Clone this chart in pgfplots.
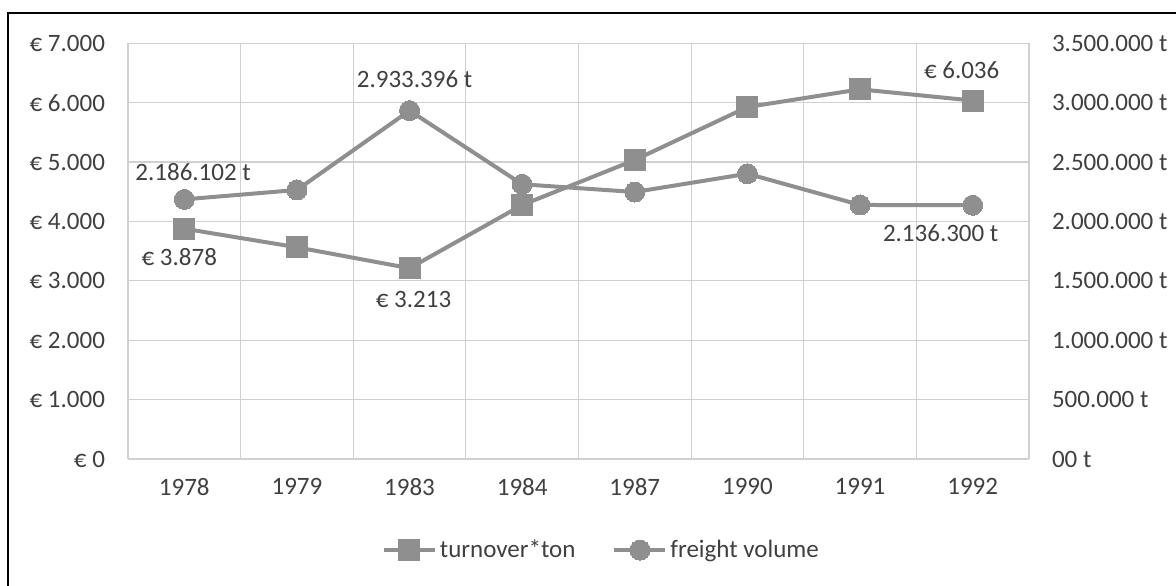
\documentclass[border=0pt]{standalone}
\usepackage{fontspec}
\setmainfont{Carlito}
\usepackage{pgfplots}
\pgfplotsset{compat=1.18}
\definecolor{ser}{HTML}{8F8F8F}
\definecolor{gridc}{HTML}{D0D0D0}
\definecolor{txt}{HTML}{404040}
\begin{document}
\begin{tikzpicture}[font=\fontsize{12.5}{15}\selectfont]
\useasboundingbox (0pt,0pt) rectangle (588pt,292.5pt);
\draw[line width=1.2pt] (4pt,-10pt) -- (4pt,286pt) -- (600pt,286pt);
\pgfplotsset{myax/.style={at={(64pt,63pt)}, anchor=south west, scale only axis,
  width=450.5pt, height=207.85pt, xmin=-0.5, xmax=7.5,
  major tick length=0pt, minor tick length=0pt,
  tick label style={text=txt}, axis line style={draw=none}},
  serstyle/.style={ser, line width=2pt},
  sqmark/.style={mark=square*, mark size=5.25pt, mark options={solid, fill=ser, draw=ser, line width=0pt}},
  cimark/.style={mark=*, mark size=5pt, mark options={solid, fill=ser, draw=ser, line width=0pt}}}
\begin{axis}[myax, ymin=0, ymax=7000,
  xtick={0,1,2,3,4,5,6,7},
  xticklabels={1978,1979,1983,1984,1987,1990,1991,1992},
  minor xtick={-0.5,0.5,1.5,2.5,3.5,4.5,5.5,6.5,7.5},
  ytick={0,1000,2000,3000,4000,5000,6000,7000},
  yticklabels={€ 0,€ 1.000,€ 2.000,€ 3.000,€ 4.000,€ 5.000,€ 6.000,€ 7.000},
  xminorgrids, ymajorgrids,
  major grid style={gridc, line width=0.6pt},
  minor grid style={gridc, line width=0.6pt},
  yticklabel style={xshift=-8pt},
  xticklabel style={yshift=-6pt}]
\addplot[serstyle, sqmark] coordinates {(0,3878) (1,3565) (2,3213) (3,4277) (4,5035) (5,5927) (6,6225) (7,6036)};
\node[text=txt, xshift=-2.5pt, yshift=-14pt] at (axis cs:0,3878) {€ 3.878};
\node[text=txt, xshift=2pt, yshift=-15.5pt] at (axis cs:2,3213) {€ 3.213};
\node[text=txt, xshift=-5.5pt, yshift=15pt] at (axis cs:7,6036) {€ 6.036};
\end{axis}
\begin{axis}[myax, ymin=0, ymax=3500000, scaled y ticks=false,
  axis x line=none, axis y line*=right,
  ytick={0,500000,1000000,1500000,2000000,2500000,3000000,3500000},
  yticklabels={00 t,500.000 t,1.000.000 t,1.500.000 t,2.000.000 t,2.500.000 t,3.000.000 t,3.500.000 t},
  yticklabel style={xshift=8pt},
  legend columns=2,
  legend style={at={(axis description cs:0.526,-0.219)}, anchor=center, draw=none, fill=none,
    text=txt, font=\fontsize{12.5}{15}\selectfont,
    /tikz/every even column/.append style={column sep=17pt},
    nodes={inner sep=1.5pt}},
  legend cell align=left,
  legend image code/.code={\draw[#1, mark repeat=2, mark phase=2] plot coordinates {(0pt,0pt) (12.75pt,0pt) (25.5pt,0pt)};}]
\addlegendimage{serstyle, sqmark}
\addlegendentry{turnover*ton}
\addplot[serstyle, cimark] coordinates {(0,2186102) (1,2265000) (2,2933396) (3,2313000) (4,2248000) (5,2402000) (6,2139000) (7,2136300)};
\addlegendentry{freight volume}
\node[text=txt, xshift=4.4pt, yshift=13.5pt] at (axis cs:0,2186102) {2.186.102 t};
\node[text=txt, xshift=2.5pt, yshift=15.5pt] at (axis cs:2,2933396) {2.933.396 t};
\node[text=txt, xshift=-16pt, yshift=-14pt] at (axis cs:7,2136300) {2.136.300 t};
\end{axis}
\end{tikzpicture}
\end{document}
